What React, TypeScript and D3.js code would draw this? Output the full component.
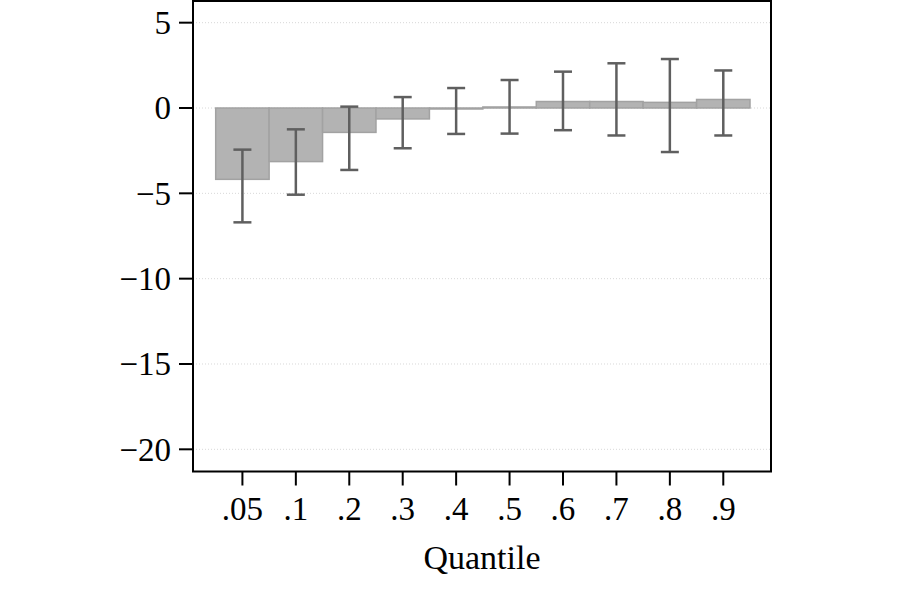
import React from "react";
import * as d3 from "d3";

const quantiles = [".05", ".1", ".2", ".3", ".4", ".5", ".6", ".7", ".8", ".9"];
const estimates = [-4.18, -3.14, -1.43, -0.64, -0.05, 0.06, 0.38, 0.38, 0.33, 0.5];
const lower = [-6.7, -5.08, -3.63, -2.36, -1.52, -1.5, -1.3, -1.61, -2.58, -1.61];
const upper = [-2.44, -1.25, 0.08, 0.64, 1.17, 1.64, 2.13, 2.62, 2.87, 2.2];
const yTicks = [5, 0, -5, -10, -15, -20];

const width = 900;
const height = 600;
const frame = { left: 193, right: 771, top: 1, bottom: 471.5 };
const font = "'Liberation Serif', 'Times New Roman', serif";

const App = () => {
  const x = d3
    .scaleBand()
    .domain(quantiles)
    .range([215.7, 750])
    .padding(0);

  const y = d3
    .scaleLinear()
    .domain([-21.3, 6.27])
    .range([frame.bottom, frame.top]);

  const capW = 9;
  const fmt = (v: number) => (v < 0 ? "\u2212" + Math.abs(v) : String(v));

  return (
    <svg
      width={width}
      height={height}
      style={{ position: "absolute", left: 0, top: 0, background: "#fff" }}
    >
      {/* grid */}
      <g>
        {yTicks.map((t) => (
          <line
            key={t}
            x1={frame.left}
            x2={frame.right}
            y1={y(t)}
            y2={y(t)}
            stroke="#d8d8d8"
            strokeWidth={1}
            strokeDasharray="1,2"
          />
        ))}
      </g>

      {/* bars */}
      <g fill="#b3b3b3" stroke="#a2a2a2" strokeWidth={1.5}>
        {quantiles.map((q, i) => {
          const v = estimates[i];
          const y0 = Math.min(y(0), y(v));
          const h = Math.max(Math.abs(y(v) - y(0)), 1);
          return <rect key={q} x={x(q)} y={y0} width={x.bandwidth()} height={h} />;
        })}
      </g>

      {/* error bars */}
      <g stroke="#5f5f5f" strokeWidth={2.5} fill="none">
        {quantiles.map((q, i) => {
          const cx = (x(q) as number) + x.bandwidth() / 2;
          return (
            <g key={q}>
              <line x1={cx} x2={cx} y1={y(upper[i])} y2={y(lower[i])} />
              <line x1={cx - capW} x2={cx + capW} y1={y(upper[i])} y2={y(upper[i])} />
              <line x1={cx - capW} x2={cx + capW} y1={y(lower[i])} y2={y(lower[i])} />
            </g>
          );
        })}
      </g>

      {/* frame */}
      <rect
        x={frame.left}
        y={frame.top}
        width={frame.right - frame.left}
        height={frame.bottom - frame.top}
        fill="none"
        stroke="#000"
        strokeWidth={2}
      />

      {/* y axis */}
      <g>
        {yTicks.map((t) => (
          <g key={t}>
            <line x1={frame.left - 14} x2={frame.left} y1={y(t)} y2={y(t)} stroke="#000" strokeWidth={2} />
            <text
              x={frame.left - 22}
              y={y(t)}
              dy="0.34em"
              textAnchor="end"
              fontFamily={font}
              fontSize={33}
              fill="#000"
            >
              {fmt(t)}
            </text>
          </g>
        ))}
      </g>

      {/* x axis */}
      <g>
        {quantiles.map((q) => {
          const cx = (x(q) as number) + x.bandwidth() / 2;
          return (
            <g key={q}>
              <line x1={cx} x2={cx} y1={frame.bottom} y2={frame.bottom + 14} stroke="#000" strokeWidth={2} />
              <text x={cx} y={520} textAnchor="middle" fontFamily={font} fontSize={33} fill="#000">
                {q}
              </text>
            </g>
          );
        })}
        <text
          x={(frame.left + frame.right) / 2}
          y={569}
          textAnchor="middle"
          fontFamily={font}
          fontSize={34}
          fill="#000"
        >
          Quantile
        </text>
      </g>
    </svg>
  );
};

export default App;
